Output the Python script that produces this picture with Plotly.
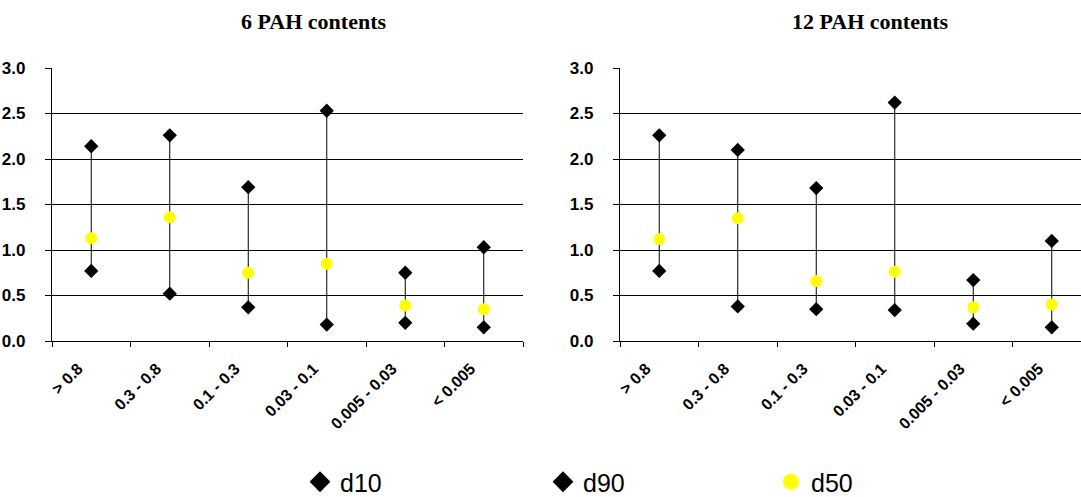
import plotly.graph_objects as go

categories = ["> 0.8", "0.3 - 0.8", "0.1 - 0.3", "0.03 - 0.1", "0.005 - 0.03", "< 0.005"]

# 6 PAH contents
d10_6 = [0.77, 0.52, 0.37, 0.18, 0.20, 0.15]
d90_6 = [2.14, 2.26, 1.69, 2.53, 0.75, 1.03]
d50_6 = [1.13, 1.36, 0.75, 0.85, 0.39, 0.35]

# 12 PAH contents
d10_12 = [0.77, 0.38, 0.35, 0.34, 0.19, 0.15]
d90_12 = [2.26, 2.10, 1.68, 2.62, 0.67, 1.10]
d50_12 = [1.12, 1.35, 0.66, 0.76, 0.37, 0.40]

titles = ["6 PAH contents", "12 PAH contents"]
series_names = ["d10", "d90", "d50"]
y_ticks = [0.0, 0.5, 1.0, 1.5, 2.0, 2.5, 3.0]

W, H = 1081, 497
T, B = 68, 156
SANS = "Liberation Sans"
SERIF = "Liberation Serif"

styles = {
    "d10": dict(symbol="diamond", color="black"),
    "d90": dict(symbol="diamond", color="black"),
    "d50": dict(symbol="circle", color="#FFFF00"),
}

fig = go.Figure()

panels = [
    (d10_6, d90_6, d50_6, "x", "y"),
    (d10_12, d90_12, d50_12, "x2", "y2"),
]

for d10, d90, d50, xa, ya in panels:
    lx, ly = [], []
    for c, lo, hi in zip(categories, d10, d90):
        lx += [c, c, None]
        ly += [lo, hi, None]
    fig.add_trace(go.Scatter(x=lx, y=ly, mode="lines", line=dict(color="black", width=1),
                             showlegend=False, hoverinfo="skip", xaxis=xa, yaxis=ya))
    for name, vals, size in (("d10", d10, 11), ("d90", d90, 11), ("d50", d50, 12)):
        fig.add_trace(go.Scatter(x=categories, y=vals, mode="markers", name=name,
                                 marker=dict(size=size, **styles[name]),
                                 showlegend=False, xaxis=xa, yaxis=ya))

# legend entries (one legend box per entry so each can be placed like the original)
legend_ids = ["legend", "legend2", "legend3"]
legend_x = [300, 543, 771]
for name, lid in zip(series_names, legend_ids):
    fig.add_trace(go.Scatter(x=[None], y=[None], mode="markers", name=name,
                             marker=dict(size=16, **styles[name]),
                             showlegend=True, legend=lid, xaxis="x", yaxis="y"))

left_dom = [52 / W, 523 / W]
right_dom = [620 / W, 1.0]
right_end = 5.5 - (620 + 471 - W) / 78.5


def xaxis_common(dom, rng, anchor):
    return dict(domain=dom, anchor=anchor, type="category", categoryorder="array",
                categoryarray=categories, range=rng, tickson="boundaries", ticks="outside",
                ticklen=5, tickwidth=1, tickcolor="black", showgrid=False, showline=True,
                linecolor="black", linewidth=1, tickangle=-45,
                tickfont=dict(family=SANS, size=16, color="black", weight="bold"),
                ticklabelstandoff=11, ticklabelshift=-13, zeroline=False, automargin=False)


def xaxis_overlay(dom, rng, over, anchor):
    return dict(domain=dom, type="category", categoryorder="array", categoryarray=categories,
                range=rng, tickson="boundaries", ticks="inside", ticklen=5, tickwidth=1,
                tickcolor="black", showgrid=False, showline=False, showticklabels=False,
                overlaying=over, anchor=anchor, zeroline=False)


def yaxis_common(anchor):
    return dict(domain=[0, 1], anchor=anchor, range=[0, 3], tickvals=y_ticks, tickformat=".1f",
                ticks="outside", ticklen=6, tickwidth=1, tickcolor="black",
                showgrid=True, gridcolor="black", gridwidth=1.2,
                showline=True, linecolor="black", linewidth=1.2, zeroline=False,
                tickfont=dict(family=SANS, size=17, color="black", weight="bold"),
                ticklabelstandoff=16, automargin=False)


plot_h = H - T - B
leg_y = -(482 - (H - B)) / plot_h
legend_common = dict(orientation="h", xanchor="left", y=leg_y, yanchor="middle",
                     font=dict(family=SANS, size=25, color="black"),
                     bgcolor="rgba(0,0,0,0)", borderwidth=0)

layout_legends = {}
for lid, lx in zip(legend_ids, legend_x):
    layout_legends[lid] = dict(legend_common, x=lx / W)

title_y = (H - B - 22) / plot_h
fig.update_layout(
    width=W, height=H,
    margin=dict(l=0, r=0, t=T, b=B, autoexpand=False),
    paper_bgcolor="white", plot_bgcolor="white",
    xaxis=xaxis_common(left_dom, [-0.5, 5.5], "y"),
    xaxis2=xaxis_common(right_dom, [-0.5, right_end], "y2"),
    xaxis3=xaxis_overlay(left_dom, [-0.5, 5.5], "x", "y"),
    xaxis4=xaxis_overlay(right_dom, [-0.5, right_end], "x2", "y2"),
    yaxis=yaxis_common("x"),
    yaxis2=yaxis_common("x2"),
    showlegend=True,
    annotations=[
        dict(text="<b>%s</b>" % titles[0], x=313 / W, y=title_y, xref="paper", yref="paper",
             xanchor="center", yanchor="middle", showarrow=False,
             font=dict(family=SERIF, size=22, color="black")),
        dict(text="<b>%s</b>" % titles[1], x=870 / W, y=title_y, xref="paper", yref="paper",
             xanchor="center", yanchor="middle", showarrow=False,
             font=dict(family=SERIF, size=22, color="black")),
    ],
    **layout_legends,
)

fig.write_html("out.html", config={"displayModeBar": False},
               post_script="document.body.style.margin='0';")
